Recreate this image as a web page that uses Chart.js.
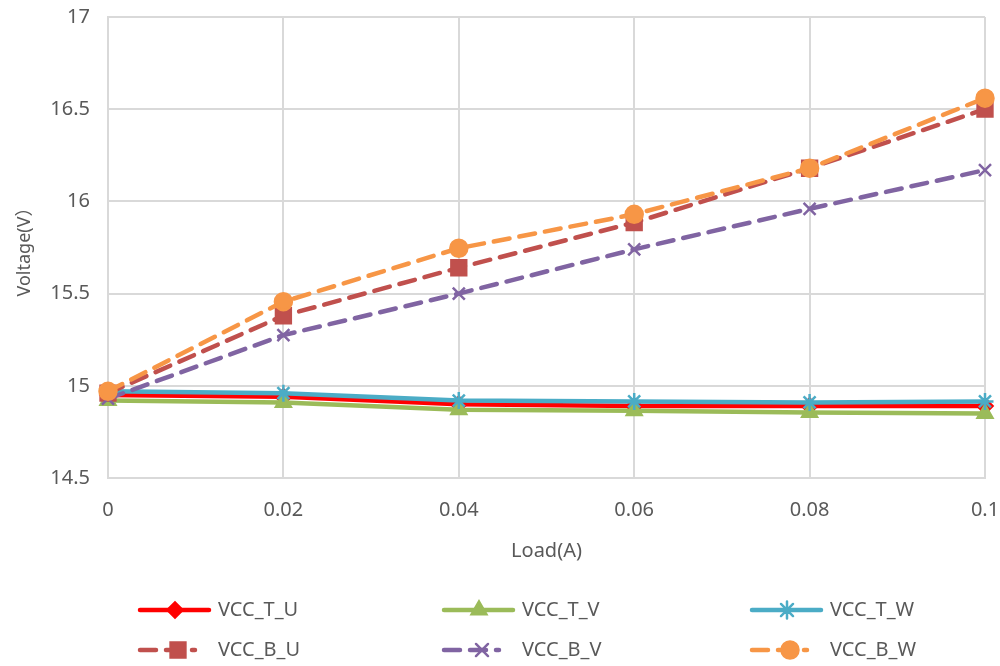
<!DOCTYPE html>
<html>
<head>
<meta charset="utf-8">
<script src="https://cdn.jsdelivr.net/npm/chart.js@4"></script>
<style>
html,body{margin:0;padding:0;background:#fff;}
#wrap{width:1000px;height:666px;position:relative;}
</style>
</head>
<body>
<div id="wrap"><canvas id="c" width="1000" height="666"></canvas></div>
<script>
// ---- data ----
const loads = [0, 0.02, 0.04, 0.06, 0.08, 0.1];
const xTickLabels = ['0', '0.02', '0.04', '0.06', '0.08', '0.1'];
const yTickLabels = ['14.5', '15', '15.5', '16', '16.5', '17'];
const seriesNames = ['VCC_T_U', 'VCC_T_V', 'VCC_T_W', 'VCC_B_U', 'VCC_B_V', 'VCC_B_W'];
const vccTU = [14.95, 14.94, 14.90, 14.89, 14.89, 14.89];
const vccTV = [14.92, 14.91, 14.87, 14.865, 14.855, 14.85];
const vccTW = [14.97, 14.96, 14.92, 14.915, 14.91, 14.915];
const vccBU = [14.96, 15.38, 15.64, 15.885, 16.18, 16.50];
const vccBV = [14.93, 15.275, 15.50, 15.74, 15.96, 16.17];
const vccBW = [14.97, 15.456, 15.746, 15.93, 16.18, 16.56];
const xTitle = 'Load(A)';
const yTitle = 'Voltage(V）';

// ---- styles ----
const FONT = "'Noto Sans', 'Noto Sans CJK SC', sans-serif";
const TXT = '#595959';
const styles = [
  {color:'#FF0000', pointStyle:'rectRot', radius:7.5, dash:[]},
  {color:'#9BBB59', pointStyle:'triangle', radius:8.5, dash:[]},
  {color:'#4BACC6', pointStyle:'star', radius:8.5, dash:[]},
  {color:'#C0504D', pointStyle:'rect', radius:10.5, dash:[16,10]},
  {color:'#8064A2', pointStyle:'crossRot', radius:8.5, dash:[16,10]},
  {color:'#F79646', pointStyle:'circle', radius:8.5, dash:[16,10]}
];
const allSeries = [vccTU, vccTV, vccTW, vccBU, vccBV, vccBW];

const datasets = allSeries.map((vals, i) => ({
  label: seriesNames[i],
  data: vals.map((v, j) => ({x: loads[j], y: v})),
  borderColor: styles[i].color,
  backgroundColor: styles[i].color,
  pointBackgroundColor: styles[i].color,
  pointBorderColor: styles[i].color,
  pointStyle: styles[i].pointStyle,
  pointRadius: styles[i].radius,
  pointBorderWidth: 2.5,
  borderWidth: 4.5,
  borderDash: styles[i].dash,
  borderCapStyle: 'round',
  tension: 0,
  clip: false,
  order: 5 - i
}));

const legendPlugin = {
  id: 'excelLegend',
  afterDraw(chart) {
    const ctx = chart.ctx;
    const cols = [140, 444, 752];
    const rows = [610, 650];
    ctx.save();
    for (let i = 0; i < 6; i++) {
      const s = styles[i];
      const x0 = cols[i % 3];
      const y = rows[Math.floor(i / 3)];
      ctx.strokeStyle = s.color;
      ctx.fillStyle = s.color;
      ctx.lineWidth = 4.5;
      ctx.lineCap = 'round';
      ctx.setLineDash(s.dash);
      ctx.beginPath();
      if (s.dash.length) { ctx.moveTo(x0, y); ctx.lineTo(x0 + 55, y); }
      else { ctx.moveTo(x0, y); ctx.lineTo(x0 + 69, y); }
      ctx.stroke();
      ctx.setLineDash([]);
      ctx.lineWidth = 2.5;
      Chart.helpers.drawPoint(ctx, {pointStyle: s.pointStyle, radius: s.radius, rotation: 0, borderWidth: 2.5}, x0 + (s.dash.length ? 38 : 35), y);
      ctx.fillStyle = TXT;
      ctx.font = '20px ' + FONT;
      ctx.textBaseline = 'middle';
      ctx.textAlign = 'left';
      ctx.fillText(seriesNames[i], x0 + 78, y);
    }
    ctx.restore();
  }
};

new Chart(document.getElementById('c'), {
  type: 'line',
  data: { datasets },
  options: {
    responsive: false,
    animation: false,
    devicePixelRatio: 1,
    layout: { padding: { left: 0, right: 15, top: 17, bottom: 103 } },
    plugins: { legend: { display: false }, tooltip: { enabled: false } },
    scales: {
      x: {
        type: 'linear', min: 0, max: 0.1,
        afterFit(s) { s.height = 85; s.paddingLeft = 0; s.paddingRight = 0; },
        afterBuildTicks(s) { s.ticks = loads.map(v => ({value: v})); },
        ticks: {
          callback: (v, i) => xTickLabels[i],
          color: TXT, font: { family: FONT, size: 20 }, padding: 20, maxRotation: 0
        },
        grid: { color: '#D9D9D9', lineWidth: 2, drawTicks: false },
        border: { color: '#D9D9D9', width: 2 },
        title: { display: true, text: xTitle, color: TXT, font: { family: FONT, size: 20 }, padding: { top: 6, bottom: 0 } }
      },
      y: {
        min: 14.5, max: 17,
        afterFit(s) { s.width = 108; s.paddingTop = 0; s.paddingBottom = 0; },
        afterBuildTicks(s) { s.ticks = yTickLabels.map(t => ({value: parseFloat(t)})); },
        ticks: {
          callback: (v, i) => yTickLabels[i],
          color: TXT, font: { family: FONT, size: 20 }, padding: 18
        },
        grid: { color: '#D9D9D9', lineWidth: 2, drawTicks: false },
        border: { color: '#D9D9D9', width: 2 },
        title: { display: true, text: yTitle, color: TXT, font: { family: FONT, size: 18 }, padding: { top: 14, bottom: 6 } }
      }
    }
  },
  plugins: [legendPlugin]
});
</script>
</body>
</html>
